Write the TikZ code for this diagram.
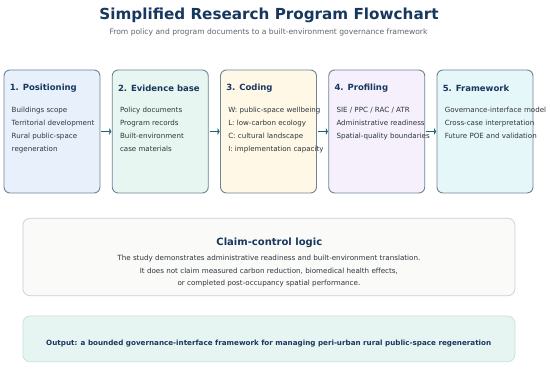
\documentclass[tikz,border=0pt]{standalone}
\usepackage{fontspec}
\setmainfont{DejaVu Sans}
\usepackage{tikz}
\usetikzlibrary{arrows.meta}
\definecolor{navy}{HTML}{17375E}
\definecolor{bodytxt}{HTML}{2E353B}
\definecolor{subtxt}{HTML}{5B6670}
\definecolor{edge}{HTML}{6E8596}
\definecolor{flow}{HTML}{1F6470}
\definecolor{fillA}{HTML}{E8F1FB}
\definecolor{fillB}{HTML}{E8F6F1}
\definecolor{fillC}{HTML}{FFF8E6}
\definecolor{fillD}{HTML}{F5F0FC}
\definecolor{fillE}{HTML}{E6F7FA}
\definecolor{claimfill}{HTML}{FAFAF8}
\definecolor{claimedge}{HTML}{C6CFD6}
\definecolor{outfill}{HTML}{E6F5F2}
\definecolor{outedge}{HTML}{C2E2DA}

\begin{document}
\begin{tikzpicture}[x=1pt, y=-1pt,
  stage/.style={draw=edge, line width=0.9pt, rounded corners=6pt, minimum width=96pt, minimum height=123pt, inner sep=0pt},
  head/.style={anchor=west, inner sep=0pt, text=navy, font=\fontsize{8.5}{10}\selectfont\bfseries},
  items/.style={anchor=north west, inner sep=0pt, align=left, text=bodytxt, font=\fontsize{7.1}{13}\selectfont},
  arrow/.style={-{Triangle[length=2pt,width=7pt]}, line width=1.6pt, flow, shorten <=1pt, shorten >=0.5pt},
  panel/.style={line width=0.7pt, rounded corners=7pt, minimum width=492pt, inner sep=0pt}
]
  \useasboundingbox[fill=white] (0,0) rectangle (550,371);

  \node[text=navy, font=\fontsize{15.2}{18}\selectfont\bfseries] (title) at (269,15) {Simplified Research Program Flowchart};
  \node[text=subtxt, font=\fontsize{7.6}{9}\selectfont] (subtitle) at (268.5,32) {From policy and program documents to a built-environment governance framework};

  \node[stage, fill=fillA] (st1) at (52,131.5) {};
  \node[stage, fill=fillB] (st2) at (160.25,131.5) {};
  \node[stage, fill=fillC] (st3) at (268.5,131.5) {};
  \node[stage, fill=fillD] (st4) at (376.75,131.5) {};
  \node[stage, fill=fillE] (st5) at (485,131.5) {};

  \draw[arrow] (st1) -- (st2);
  \draw[arrow] (st2) -- (st3);
  \draw[arrow] (st3) -- (st4);
  \draw[arrow] (st4) -- (st5);

  \node[head] (h1) at ([xshift=6pt,yshift=-18.5pt]st1.north west) {1. Positioning};
  \node[head] (h2) at ([xshift=6pt,yshift=-18.5pt]st2.north west) {2. Evidence base};
  \node[head] (h3) at ([xshift=6pt,yshift=-18.5pt]st3.north west) {3. Coding};
  \node[head] (h4) at ([xshift=6pt,yshift=-18.5pt]st4.north west) {4. Profiling};
  \node[head] (h5) at ([xshift=6pt,yshift=-18.5pt]st5.north west) {5. Framework};

  \node[items] (i1) at ([xshift=8pt,yshift=-37pt]st1.north west) {Buildings scope\\ Territorial development\\ Rural public-space\\ regeneration};
  \node[items] (i2) at ([xshift=8pt,yshift=-37pt]st2.north west) {Policy documents\\ Program records\\ Built-environment\\ case materials};
  \node[items] (i3) at ([xshift=8pt,yshift=-37pt]st3.north west) {W: public-space wellbeing\\ L: low-carbon ecology\\ C: cultural landscape\\ I: implementation capacity};
  \node[items] (i4) at ([xshift=8pt,yshift=-37pt]st4.north west) {SIE / PPC / RAC / ATR\\ Administrative readiness\\ Spatial-quality boundaries};
  \node[items] (i5) at ([xshift=8pt,yshift=-37pt]st5.north west) {Governance-interface model\\ Cross-case interpretation\\ Future POE and validation};

  % claim-control panel
  \node[panel, draw=claimedge, fill=claimfill, minimum height=77.4pt] (claim) at (268.9,257) {};
  \node[text=navy, font=\fontsize{10}{12}\selectfont\bfseries] (claimhead) at (269.3,242.5) {Claim-control logic};
  \node[align=center, text=bodytxt, font=\fontsize{7.15}{12.2}\selectfont] (claimtext) at (268.9,271.2) {The study demonstrates administrative readiness and built-environment translation.\\ It does not claim measured carbon reduction, biomedical health effects,\\ or completed post-occupancy spatial performance.};

  % output panel
  \node[panel, draw=outedge, fill=outfill, minimum height=45.7pt] (out) at (268.9,338.9) {};
  \node[text=navy, font=\fontsize{7.17}{8}\selectfont\bfseries] (outtext) at (268.7,344) {Output: a bounded governance-interface framework for managing peri-urban rural public-space regeneration};
\end{tikzpicture}
\end{document}
